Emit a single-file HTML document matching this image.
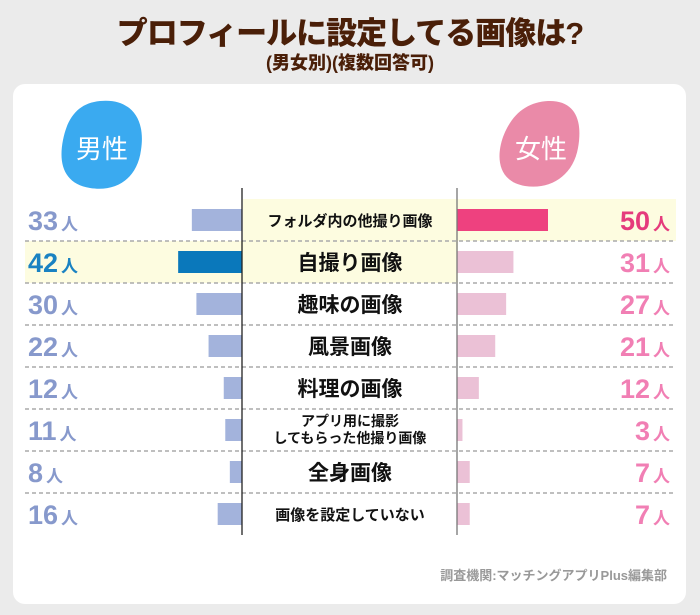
<!DOCTYPE html>
<html><head><meta charset="utf-8">
<style>
body{margin:0;width:700px;height:615px;background:#ebebeb;font-family:"Liberation Sans","Noto Sans CJK JP",sans-serif;overflow:hidden;position:relative}
.t{position:absolute;left:0;width:700px;text-align:center;color:#4a1f08;font-weight:900}
.card{position:absolute;left:13px;top:84px;width:673px;height:520px;background:#fff;border-radius:12px}
</style></head><body>
<div class="t" style="top:8px;font-size:31px;letter-spacing:-1px">プロフィールに設定してる画像は?</div>
<div class="t" style="top:49px;font-size:18px">(男女別)(複数回答可)</div>
<div class="card"></div>
<svg id="chart" width="700" height="615" style="position:absolute;left:0;top:0">
<path d="M100,101 C130,98 146,118 141,150 C137,180 115,192 90,188 C65,184 58,165 63,140 C68,115 80,103 100,101Z" fill="#3aaaf0"/>
<text x="102" y="158" font-size="26" fill="#fff" text-anchor="middle">男性</text>
<path d="M548,101 C575,100 583,120 578,148 C573,176 550,190 525,186 C500,182 495,160 503,137 C512,113 528,102 548,101Z" fill="#ea8aa8"/>
<text x="541" y="158" font-size="26" fill="#fff" text-anchor="middle">女性</text>
<text x="667" y="580" font-size="13" fill="#999" text-anchor="end" font-weight="bold">調査機関:マッチングアプリPlus編集部</text>
</svg>
<script>
const categories=["フォルダ内の他撮り画像","自撮り画像","趣味の画像","風景画像","料理の画像","アプリ用に撮影\nしてもらった他撮り画像","全身画像","画像を設定していない"];
const maleValues=[33,42,30,22,12,11,8,16];
const femaleValues=[50,31,27,21,12,3,7,7];
const maleTop=1, femaleTop=0;
const svg=document.getElementById('chart');
const NS='http://www.w3.org/2000/svg';
const LX=242,RX=457,ROW0=199,RH=42;
const xMale=v=>LX-v*1.52, xFemale=v=>RX+v*1.82;
const rowY=i=>ROW0+i*RH;
function mk(t,a,p){const e=document.createElementNS(NS,t);for(const k in a)e.setAttribute(k,a[k]);(p||svg).appendChild(e);return e;}
const g=document.createElementNS(NS,'g');svg.insertBefore(g,svg.firstChild);
// highlight bands
let h=mk('rect',{x:243,y:rowY(femaleTop),width:433,height:RH,fill:'#fdfce0'},g);


h=mk('rect',{x:25,y:rowY(maleTop),width:433,height:RH,fill:'#fdfce0'},g);


categories.forEach((c,i)=>{
  const y=rowY(i),cy=y+RH/2;
  if(i<categories.length-1){const l=mk('line',{x1:25,x2:676,y1:y+RH,y2:y+RH,stroke:'#aaa','stroke-width':1.5,'stroke-dasharray':'4,3'},g);
  
  }
  const mv=maleValues[i],fv=femaleValues[i];
  const mb=mk('rect',{x:xMale(mv),y:cy-11,width:LX-xMale(mv),height:22,fill:i===maleTop?'#0a78bb':'#a3b3dc'});
  
  
  const fb=mk('rect',{x:RX,y:cy-11,width:xFemale(fv)-RX,height:22,fill:i===femaleTop?'#ee417f':'#ebc1d6'});
  
  
  const mt=mk('text',{x:28,y:cy+10,'font-size':27,'font-weight':'bold',fill:i===maleTop?'#1a82c2':'#8799cc'});
  mt.innerHTML=mv+'<tspan font-size="17" dx="3">人</tspan>';
  
  
  const ft=mk('text',{x:670,y:cy+10,'font-size':27,'font-weight':'bold','text-anchor':'end',fill:i===femaleTop?'#e53b7c':'#f17fb4'});
  ft.innerHTML=fv+'<tspan font-size="17" dx="3">人</tspan>';
  
  
  const lines=c.split('\n');
  const big=(c.length<=6);
  lines.forEach((ln,k)=>{
    const t=mk('text',{x:350,y:cy+(lines.length>1?(k?13:-4):(big?8:6)),'font-size':lines.length>1?14:(big?21:15),'font-weight':'bold','text-anchor':'middle',fill:'#111'});
    t.textContent=ln;
    
    
  });
});
let a=mk('line',{x1:LX,x2:LX,y1:188,y2:535,stroke:'#222','stroke-width':1.3});


a=mk('line',{x1:RX,x2:RX,y1:188,y2:535,stroke:'#777','stroke-width':1.3});


</script>
</body></html>
